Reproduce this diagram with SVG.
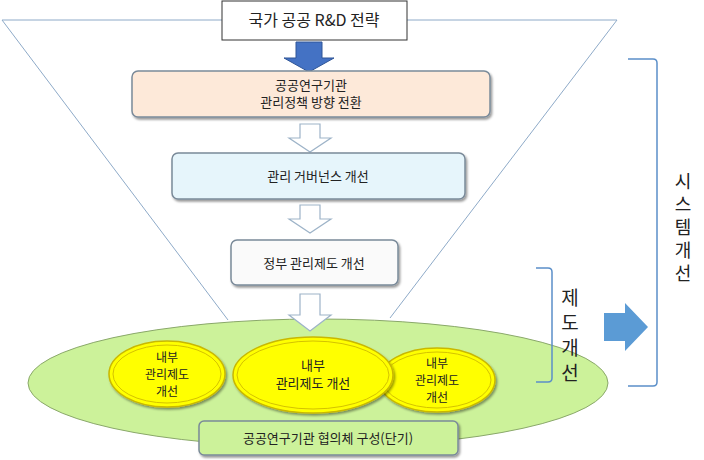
<svg xmlns="http://www.w3.org/2000/svg" width="704" height="460" viewBox="0 0 704 460">
<defs>
<style>
text{font-family:"Noto Sans CJK KR","Noto Sans",sans-serif;fill:#222;text-anchor:middle}
.t{font-size:13px}
.s{font-size:12px}
.big{font-size:19px}
.vt{font-size:18px}
.box{stroke:#7a8a99;stroke-width:1.5}
.hollow{fill:#fff;stroke:#9db3c8;stroke-width:1.2}
.ln{stroke:#8eaac8;stroke-width:1;fill:none}
.br{stroke:#5b8fc9;stroke-width:1.5;fill:none}
.yel{fill:#ffff00;stroke:#c9b800;stroke-width:1.5}
</style>
<filter id="sh" x="-10%" y="-10%" width="120%" height="130%"><feDropShadow dx="1.5" dy="2" stdDeviation="1.2" flood-color="#000" flood-opacity="0.4"/></filter>
</defs>
<g id="connectors">
<path class="ln" d="M2,20 H222 M407,20 H617 M2,20 L228,320 M617,20 L390,318"/>
<path d="M296,42 H322 V58 H334 L309,72 L284,58 H296 Z" fill="#4472c4" stroke="#2f5597"/>
<path class="hollow" d="M300,124 H320 V138 H331 L310,152 L289,138 H300 Z"/>
<path class="hollow" d="M300,205 H320 V219 H331 L310,233 L289,219 H300 Z"/>
</g>
<g id="n0"><rect x="222" y="1" width="185" height="39" fill="#fff" stroke="#333"/><text x="314" y="26" style="font-size:16px">국가 공공 R&amp;D 전략</text></g>
<g id="n1"><rect class="box" x="132" y="71" width="358" height="46" rx="6" fill="#fde9d9" filter="url(#sh)"/><text class="t" x="311" y="90">공공연구기관</text><text class="t" x="311" y="107">관리정책 방향 전환</text></g>
<g id="n2"><rect class="box" x="172" y="153" width="293" height="46" rx="6" fill="#e6f5fb" filter="url(#sh)"/><text class="t" x="318" y="181">관리 거버넌스 개선</text></g>
<g id="n3"><rect class="box" x="231" y="240" width="167" height="45" rx="6" fill="#fafafa" filter="url(#sh)"/><text class="t" x="314" y="268">정부 관리제도 개선</text></g>
<g id="outer"><ellipse cx="318" cy="383" rx="290" ry="64" fill="#ccf29a" stroke="#8aa86a"/></g>
<g id="a4"><path class="hollow" d="M300,294 H320 V315 H331 L310,331 L289,315 H300 Z"/></g>
<g id="e1"><ellipse class="yel" cx="167" cy="374" rx="58" ry="33" filter="url(#sh)"/><ellipse cx="167" cy="374" rx="54" ry="29" fill="none" stroke="#d4c200"/><text class="s" x="167" y="362">내부</text><text class="s" x="167" y="379">관리제도</text><text class="s" x="167" y="396">개선</text></g>
<g id="e3"><ellipse class="yel" cx="437" cy="380" rx="58" ry="32" filter="url(#sh)"/><ellipse cx="437" cy="380" rx="54" ry="28" fill="none" stroke="#d4c200"/><text class="s" x="437" y="368">내부</text><text class="s" x="437" y="385">관리제도</text><text class="s" x="437" y="402">개선</text></g>
<g id="e2"><ellipse class="yel" cx="313" cy="375" rx="80" ry="38" filter="url(#sh)"/><ellipse cx="313" cy="375" rx="76" ry="34" fill="none" stroke="#d4c200"/><text class="t" x="313" y="370">내부</text><text class="t" x="313" y="388">관리제도 개선</text></g>
<g id="n5"><rect class="box" x="199" y="421" width="259" height="34" rx="5" fill="#ccf29a" filter="url(#sh)"/><text class="t" x="328" y="443">공공연구기관 협의체 구성(단기)</text></g>
<g id="b1"><path class="br" d="M536,268 H548 Q552,268 552,272 V378 Q552,382 548,382 H536"/><text class="big" x="570" y="305">제</text><text class="big" x="570" y="330">도</text><text class="big" x="570" y="355">개</text><text class="big" x="570" y="380">선</text></g>
<g id="arrowR"><path d="M604,313 H625 V303 L648,327 L625,351 V341 H604 Z" fill="#5b9bd5"/></g>
<g id="b2"><path class="br" d="M628,59 H653 Q657,59 657,63 V382 Q657,386 653,386 H628"/><text class="vt" x="683" y="188">시</text><text class="vt" x="683" y="211">스</text><text class="vt" x="683" y="234">템</text><text class="vt" x="683" y="257">개</text><text class="vt" x="683" y="280">선</text></g>
</svg>
